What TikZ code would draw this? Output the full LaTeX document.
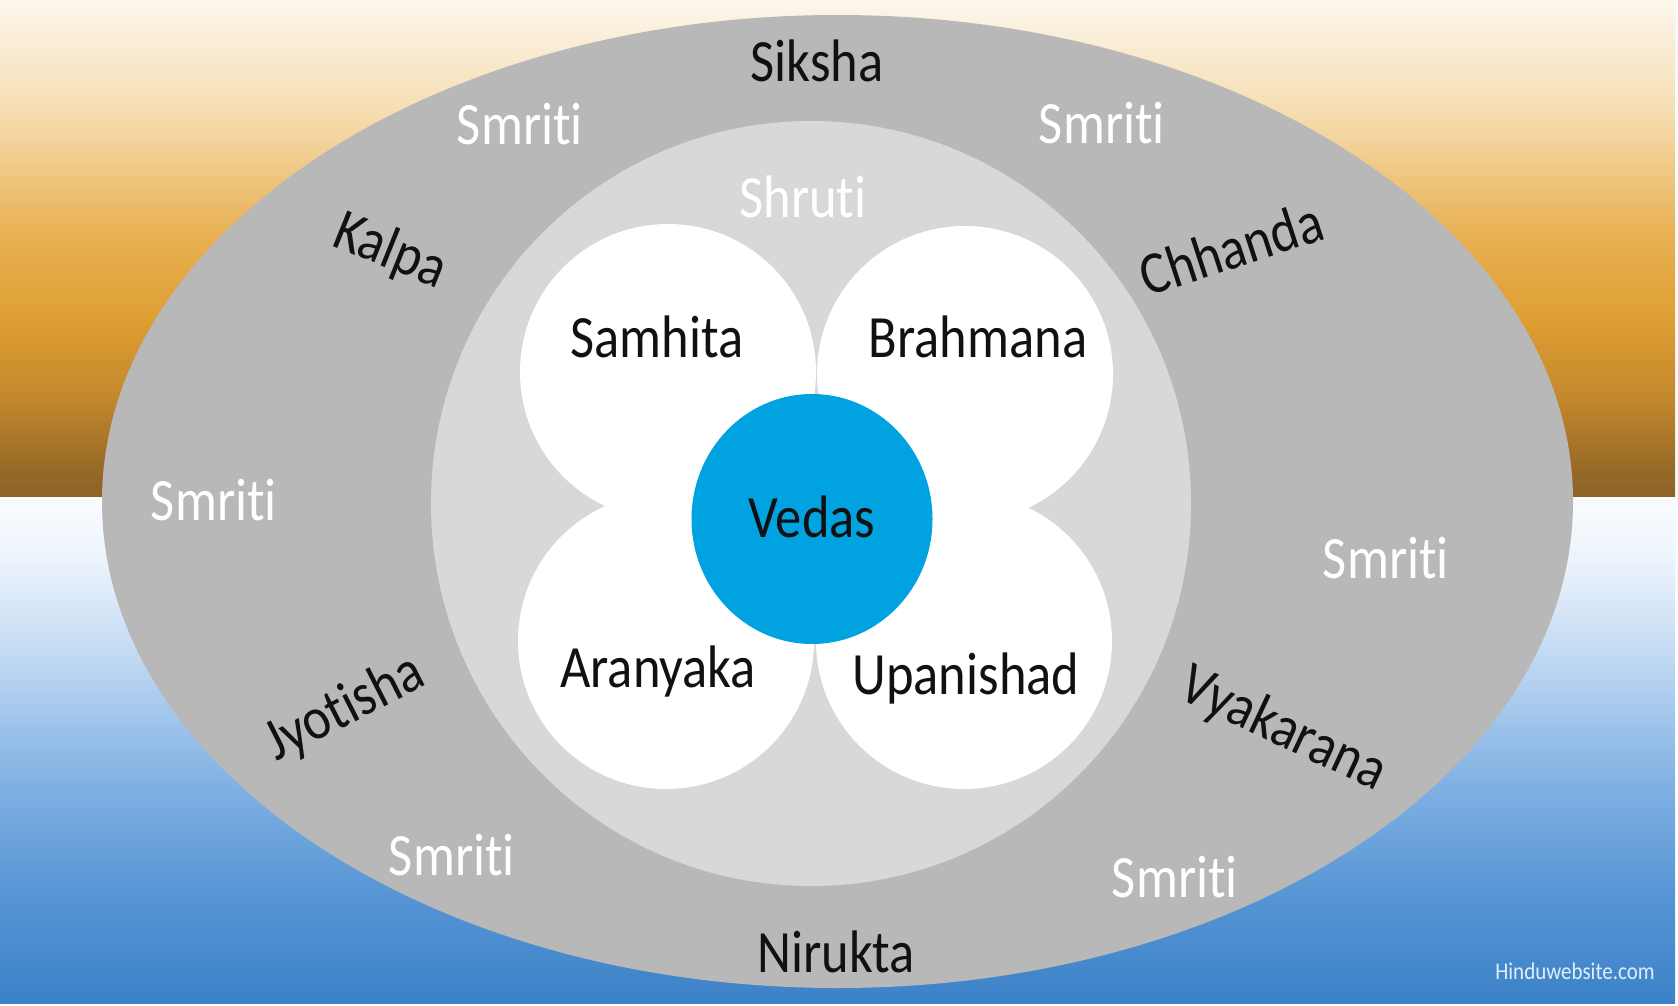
\documentclass[tikz,border=0pt]{standalone}
\usepackage{fontspec}
\setmainfont{Carlito}[FakeStretch=0.875, Ligatures={NoCommon}, RawFeature={-liga;-dlig}]
\definecolor{t1}{RGB}{252,246,236}
\definecolor{t2}{RGB}{246,222,178}
\definecolor{t3}{RGB}{233,178,85}
\definecolor{t4}{RGB}{222,158,50}
\definecolor{t5}{RGB}{195,135,45}
\definecolor{t6}{RGB}{150,105,38}
\definecolor{t7}{RGB}{140,100,40}
\definecolor{b1}{RGB}{250,252,255}
\definecolor{b2}{RGB}{236,244,252}
\definecolor{b3}{RGB}{196,219,243}
\definecolor{b4}{RGB}{130,178,228}
\definecolor{b5}{RGB}{85,148,212}
\definecolor{b6}{RGB}{60,130,200}
\definecolor{outerg}{RGB}{184,184,184}
\definecolor{innerg}{RGB}{216,216,216}
\definecolor{vedasblue}{RGB}{0,163,224}
\definecolor{txtdark}{RGB}{17,17,17}
\definecolor{wmc}{RGB}{225,238,250}
\pgfdeclareverticalshading{topsh}{100bp}{color(0bp)=(t7); color(25bp)=(t7); color(27.7bp)=(t6); color(34.8bp)=(t5); color(42.8bp)=(t4); color(51.9bp)=(t3); color(63.9bp)=(t2); color(75bp)=(t1); color(100bp)=(t1)}
\pgfdeclareverticalshading{botsh}{100bp}{color(0bp)=(b6); color(25bp)=(b6); color(35.2bp)=(b5); color(47bp)=(b4); color(59.9bp)=(b3); color(68.8bp)=(b2); color(75bp)=(b1); color(100bp)=(b1)}
\tikzset{
  lbl/.style={font=\fontsize{60}{72}\selectfont, inner sep=0pt},
  dark/.style={lbl, text=txtdark},
  light/.style={lbl, text=white}
}
\begin{document}
\begin{tikzpicture}[x=1pt,y=-1pt]
\useasboundingbox (0,0) rectangle (1678,1006);
\fill[white] (0,0) rectangle (1678,1006);
\shade[shading=topsh] (0,0) rectangle (1675,497);
\shade[shading=botsh] (0,497) rectangle (1675,1003);
% rings
\fill[outerg] (837.5,501.5) ellipse [x radius=735.5, y radius=486.5];
\fill[innerg] (811,503.5) ellipse [x radius=380, y radius=382.5];
% petals
\fill[white] (668,372) circle [radius=148];
\fill[white] (965,374) circle [radius=148];
\fill[white] (666,641) circle [radius=148];
\fill[white] (964,641) circle [radius=148];
% centre
\fill[vedasblue] (812,519) ellipse [x radius=120.5, y radius=125];
% outer ring labels
\node[dark, anchor=base] (siksha) at (817,82) {Siksha};
\node[dark, anchor=base] (nirukta) at (836,972) {Nirukta};
\node[dark, rotate=-22] (kalpa) at (390,252) {Kalpa};
\node[dark, rotate=18] (chhanda) at (1231,248) {Chhanda};
\node[dark, rotate=27] (jyotisha) at (345,709) {Jyotisha};
\node[dark, rotate=-25] (vyakarana) at (1283,730) {Vyakarana};
\node[light, anchor=base] (sm1) at (520,145) {Smriti};
\node[light, anchor=base] (sm2) at (1102,143) {Smriti};
\node[light, anchor=base] (sm3) at (214,520) {Smriti};
\node[light, anchor=base] (sm4) at (1386,578) {Smriti};
\node[light, anchor=base] (sm5) at (452,875) {Smriti};
\node[light, anchor=base] (sm6) at (1175,897) {Smriti};
% inner labels
\node[light, anchor=base] (shruti) at (803,217) {Shruti};
\node[dark, anchor=base] (samhita) at (657,357) {Samhita};
\node[dark, anchor=base] (brahmana) at (978,357) {Brahmana};
\node[dark, anchor=base] (aranyaka) at (658,687) {Aranyaka};
\node[dark, anchor=base] (upanishad) at (966,694) {Upanishad};
\node[dark, anchor=base] (vedas) at (812,537) {Vedas};
% watermark
\node[font=\fontsize{24}{28}\selectfont, text=wmc, inner sep=0pt, anchor=base] (wm) at (1575,979) {Hinduwebsite.com};
\end{tikzpicture}
\end{document}
